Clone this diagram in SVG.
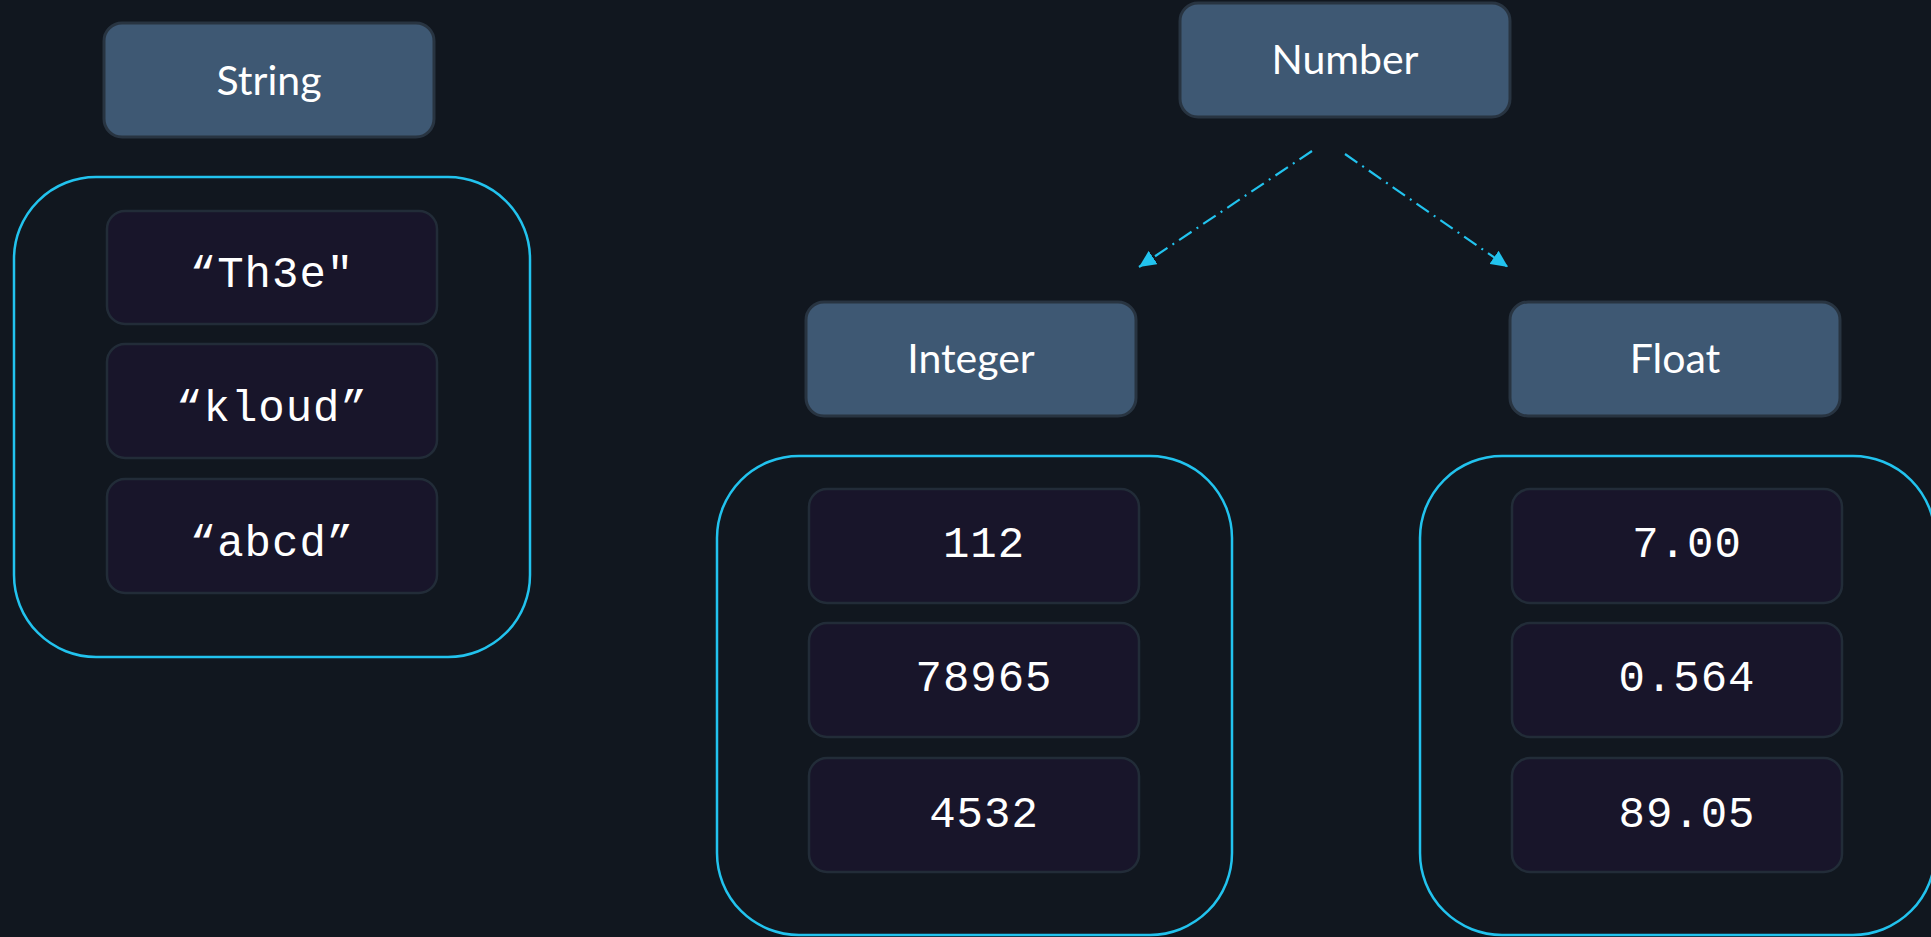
<svg xmlns="http://www.w3.org/2000/svg" width="1931" height="937" viewBox="0 0 1931 937">
  <style>
    .bg { fill: #11171f; }
    .head rect { fill: #3e5873; stroke: #283441; stroke-width: 3; }
    .head text { font-family: Lato, "Noto Sans", sans-serif; font-size: 41px; fill: #ffffff; text-anchor: middle; }
    .group { fill: none; stroke: #22c3ee; stroke-width: 2.5; }
    .item rect { fill: #18152a; stroke: #222c38; stroke-width: 2.5; }
    .item text { font-family: "Liberation Mono", "Courier New", monospace; font-size: 44px; fill: #ffffff; text-anchor: middle; letter-spacing: 1px; }
    .link { fill: none; stroke: #22c3ee; stroke-width: 2.2; stroke-dasharray: 15 6 2 6; }
  </style>
  <defs>
    <marker id="arrow" markerUnits="userSpaceOnUse" markerWidth="18" markerHeight="16" refX="17" refY="8" orient="auto">
      <path d="M0,0 L17,8 L0,16 z" fill="#22c3ee"/>
    </marker>
  </defs>

  <rect class="bg" x="0" y="0" width="1931" height="937"/>

  <!-- String column -->
  <g id="string" class="head">
    <rect x="104" y="23" width="330" height="114" rx="18"/>
    <text x="269" y="95">String</text>
  </g>
  <rect id="string-group" class="group" x="14" y="177" width="516" height="480" rx="82"/>
  <g id="str-1" class="item">
    <rect x="107" y="211" width="330" height="113" rx="18"/>
    <text x="272" y="287">“Th3e"</text>
  </g>
  <g id="str-2" class="item">
    <rect x="107" y="344" width="330" height="114" rx="18"/>
    <text x="272" y="421">“kloud”</text>
  </g>
  <g id="str-3" class="item">
    <rect x="107" y="479" width="330" height="114" rx="18"/>
    <text x="272" y="556">“abcd”</text>
  </g>

  <!-- Number and its kinds -->
  <g id="number" class="head">
    <rect x="1180" y="3" width="330" height="114" rx="18"/>
    <text x="1345" y="74">Number</text>
  </g>

  <g id="integer" class="head">
    <rect x="806" y="302" width="330" height="114" rx="18"/>
    <text x="971" y="373">Integer</text>
  </g>
  <rect id="integer-group" class="group" x="717" y="456" width="515" height="479" rx="82"/>
  <g id="int-1" class="item">
    <rect x="809" y="489" width="330" height="114" rx="18"/>
    <text x="984" y="557">112</text>
  </g>
  <g id="int-2" class="item">
    <rect x="809" y="623" width="330" height="114" rx="18"/>
    <text x="984" y="691">78965</text>
  </g>
  <g id="int-3" class="item">
    <rect x="809" y="758" width="330" height="114" rx="18"/>
    <text x="984" y="827">4532</text>
  </g>

  <g id="float" class="head">
    <rect x="1510" y="302" width="330" height="114" rx="18"/>
    <text x="1675" y="373">Float</text>
  </g>
  <rect id="float-group" class="group" x="1420" y="456" width="515" height="479" rx="82"/>
  <g id="flt-1" class="item">
    <rect x="1512" y="489" width="330" height="114" rx="18"/>
    <text x="1687" y="557">7.00</text>
  </g>
  <g id="flt-2" class="item">
    <rect x="1512" y="623" width="330" height="114" rx="18"/>
    <text x="1687" y="691">0.564</text>
  </g>
  <g id="flt-3" class="item">
    <rect x="1512" y="758" width="330" height="114" rx="18"/>
    <text x="1687" y="827">89.05</text>
  </g>

  <!-- connectors -->
  <g id="connectors">
    <path class="link" d="M1312,151 L1139,267" marker-end="url(#arrow)"/>
    <path class="link" d="M1345,154 L1508,267" marker-end="url(#arrow)"/>
  </g>
</svg>
